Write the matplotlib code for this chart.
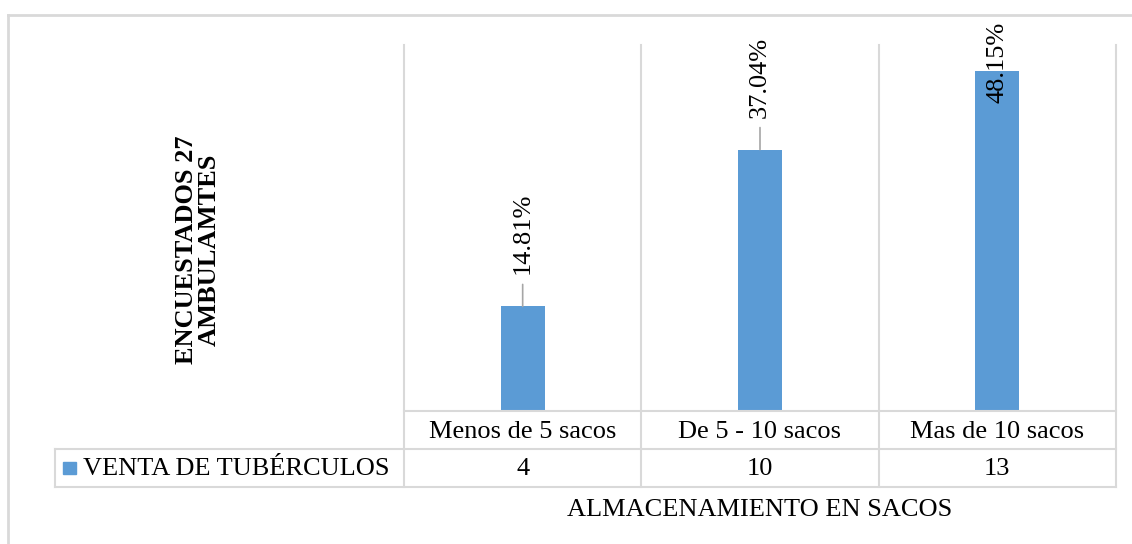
import matplotlib.pyplot as plt
from matplotlib.lines import Line2D
from matplotlib.patches import Rectangle

categorias = ['Menos de 5 sacos', 'De 5 - 10 sacos', 'Mas de 10 sacos']
ventas = [4, 10, 13]
serie = 'VENTA DE TUBÉRCULOS'
titulo_y = 'ENCUESTADOS 27\nAMBULAMTES'
titulo_x = 'ALMACENAMIENTO EN SACOS'

AZUL = '#5B9BD5'
GRIS = '#D9D9D9'
FS = 19

plt.rcParams['font.family'] = ['Liberation Serif', 'DejaVu Serif']

W, H = 1132, 544
fig = plt.figure(figsize=(W / 100, H / 100), dpi=100)


def fx(px):
    return px / W


def fy(py):
    return 1 - py / H


# plot area in pixel terms
x0, x1, ytop, ybot = 404, 1116, 45, 411
ax = fig.add_axes([fx(x0), fy(ybot), fx(x1) - fx(x0), fy(ytop) - fy(ybot)])
ax.set_xlim(-0.5, len(categorias) - 0.5)
ax.set_ylim(0, 14)
ax.axis('off')

pos = range(len(categorias))
ax.bar(pos, ventas, width=0.185, color=AZUL)

total = sum(ventas)
# label offsets in pixels above each bar top; last one is pushed inside the plot
offsets = [32, 32, -32]
for i, v in enumerate(ventas):
    pct = f'{v / total * 100:.2f}%'
    ax.annotate(pct, xy=(i, v), xytext=(0, offsets[i]), textcoords='offset pixels',
                rotation=90, ha='center', va='bottom', fontsize=FS)
    if offsets[i] > 0:
        ax.annotate('', xy=(i, v), xytext=(0, offsets[i] - 10), textcoords='offset pixels',
                    arrowprops=dict(arrowstyle='-', color='#A6A6A6', lw=1.2,
                                    shrinkA=0, shrinkB=0))

# outer chart border
fig.add_artist(Line2D([fx(8), 1], [fy(15), fy(15)], color=GRIS, lw=2))
fig.add_artist(Line2D([fx(8), fx(8)], [fy(15), 0], color=GRIS, lw=2))

# data table grid
row1, row2, row3 = 411, 449, 487
col_w = (x1 - x0) / len(categorias)
for k in range(len(categorias) + 1):
    xx = x0 + k * col_w
    fig.add_artist(Line2D([fx(xx), fx(xx)], [fy(ytop), fy(row3)], color=GRIS, lw=1.5))
fig.add_artist(Line2D([fx(x0), fx(x1)], [fy(row1), fy(row1)], color=GRIS, lw=1.5))
for yy in (row2, row3):
    fig.add_artist(Line2D([fx(55), fx(x1)], [fy(yy), fy(yy)], color=GRIS, lw=1.5))
fig.add_artist(Line2D([fx(55), fx(55)], [fy(row2), fy(row3)], color=GRIS, lw=1.5))

for k, (cat, v) in enumerate(zip(categorias, ventas)):
    cx = x0 + (k + 0.5) * col_w
    fig.text(fx(cx), fy((row1 + row2) / 2 + 2), cat, ha='center', va='center', fontsize=FS)
    fig.text(fx(cx), fy((row2 + row3) / 2 + 1), str(v), ha='center', va='center', fontsize=FS)

# legend key in the table
fig.add_artist(Rectangle((fx(63), fy(474)), fx(13), 12 / H, color=AZUL,
                         transform=fig.transFigure))
fig.text(fx(83), fy((row2 + row3) / 2 + 1), serie, ha='left', va='center', fontsize=FS)

fig.text(fx(198), fy(250), titulo_y, rotation=90, ha='center', va='center',
         fontsize=FS, fontweight='bold', linespacing=1.0, multialignment='center')
fig.text(fx(760), fy(510), titulo_x, ha='center', va='center', fontsize=FS)

fig.savefig('out.png', dpi=100)
